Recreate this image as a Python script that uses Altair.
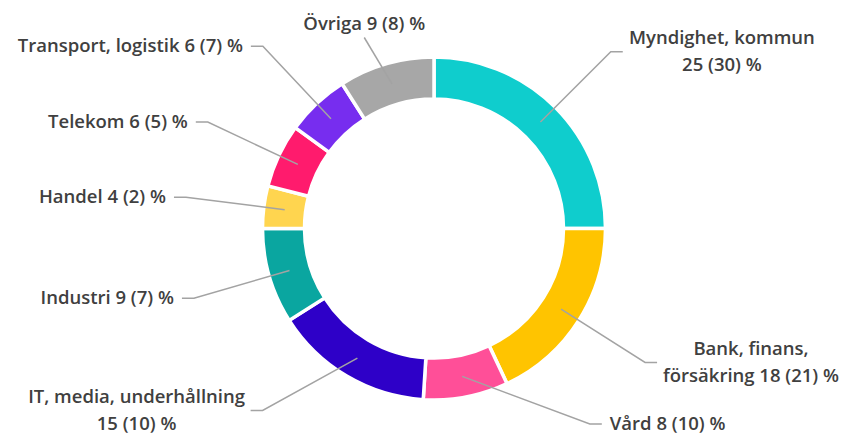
import math
import altair as alt
import pandas as pd

# ---------------- data ----------------
categories = [
    "Myndighet, kommun",
    "Bank, finans, försäkring",
    "Vård",
    "IT, media, underhållning",
    "Industri",
    "Handel",
    "Telekom",
    "Transport, logistik",
    "Övriga",
]
values = [25, 18, 8, 15, 9, 4, 6, 6, 9]
previous = [30, 21, 10, 10, 7, 2, 5, 7, 8]
labels = [
    "Myndighet, kommun\n25 (30) %",
    "Bank, finans,\nförsäkring 18 (21) %",
    "Vård 8 (10) %",
    "IT, media, underhållning\n15 (10) %",
    "Industri 9 (7) %",
    "Handel 4 (2) %",
    "Telekom 6 (5) %",
    "Transport, logistik 6 (7) %",
    "Övriga 9 (8) %",
]
colors = ["#0FCDCD", "#FFC400", "#FF4F98", "#2E00C8", "#0AA6A0",
          "#FFD54F", "#FF1B6D", "#772DEF", "#A7A7A7"]

# ---------------- layout (derived from data) ----------------
W, H = 862, 435
CX, CY = 434, 228.5
R_OUT, R_IN = 171.5, 129.5
R_MID = (R_OUT + R_IN) / 2
R_LAB = 250
SEG, GAP = 12, 8
FS, LH = 18.5, 27
TOP = 12
BOTTOM = H - 11

CW = {' ': 260, ',': 270, '.': 270, '(': 300, ')': 300, '%': 836,
      'a': 561, 'b': 615, 'c': 480, 'd': 615, 'e': 564, 'f': 344, 'g': 543,
      'h': 624, 'i': 258, 'j': 258, 'k': 546, 'l': 258, 'm': 948, 'n': 624,
      'o': 602, 'p': 615, 'q': 615, 'r': 416, 's': 477, 't': 361, 'u': 624,
      'v': 525, 'w': 809, 'x': 533, 'y': 525, 'z': 469, 'å': 561, 'ä': 561,
      'ö': 602, 'A': 650, 'B': 645, 'C': 621, 'D': 710, 'E': 540, 'F': 514,
      'G': 710, 'H': 720, 'I': 301, 'L': 520, 'M': 914, 'N': 750, 'O': 760,
      'P': 610, 'R': 620, 'S': 540, 'T': 562, 'V': 598, 'Ö': 760}


def text_width(s):
    return sum(CW.get(ch, 572 if ch.isdigit() else 560) for ch in s) * FS / 1000


total = sum(values)
cum = 0
info = []
for i, (c, v, lab) in enumerate(zip(categories, values, labels)):
    a = (cum + v / 2) / total * 2 * math.pi
    cum += v
    lines = lab.split("\n")
    info.append(dict(i=i, a=a, lines=lines, n=len(lines),
                     w=max(text_width(l) for l in lines)))

# vertical placement with clamping and overlap removal per side
for d in info:
    d["ny"] = CY - R_LAB * math.cos(d["a"])
    d["top"] = math.cos(d["a"]) > 0 and abs(math.sin(d["a"])) < math.sin(math.radians(25))
    d["side"] = 1 if math.sin(d["a"]) >= 0 else -1

for side in (1, -1):
    grp = sorted([d for d in info if d["side"] == side and not d["top"]], key=lambda d: d["ny"])
    for d in grp:
        half = d["n"] * LH / 2
        lo = TOP + half
        hi = BOTTOM - (d["n"] - 1) * LH / 2
        d["by"] = min(max(d["ny"], lo), hi)
    for k in range(1, len(grp)):
        prev, cur = grp[k - 1], grp[k]
        need = prev["by"] + (prev["n"] + cur["n"]) * LH / 2
        if cur["by"] < need:
            cur["by"] = need

line_rows, text_rows = [], []
for d in info:
    a = d["a"]
    sx, sy = CX + R_MID * math.sin(a), CY - R_MID * math.cos(a)
    lift = (d["n"] - 1) * LH / 2  # first line sits above the connector when wrapped
    if d["top"]:
        bx = CX + R_LAB * math.sin(a)
        by = max(CY - R_LAB * math.cos(a), TOP + FS + 7)
        pts = [(sx, sy), (bx, by)]
        text_rows.append(dict(cat=categories[d["i"]], x=bx, y=by - 14 - 2 * lift,
                              label="\n".join(d["lines"]), align="center"))
    else:
        s = d["side"]
        by = d["by"]
        dy = by - CY
        bx = CX + s * math.sqrt(max(R_LAB ** 2 - dy ** 2, 0))
        ex = bx + s * SEG
        edge = ex + s * GAP
        pts = [(sx, sy), (bx, by), (ex, by)]
        if d["n"] > 1:
            text_rows.append(dict(cat=categories[d["i"]], x=edge + s * d["w"] / 2, y=by - lift,
                                  label="\n".join(d["lines"]), align="center"))
        else:
            text_rows.append(dict(cat=categories[d["i"]], x=edge, y=by,
                                  label=d["lines"][0], align="left" if s > 0 else "right"))
    for k, (px, py) in enumerate(pts):
        line_rows.append(dict(cat=categories[d["i"]], seq=k, x=px, y=py))

arc_df = pd.DataFrame({"category": categories, "value": values, "idx": list(range(len(values)))})
line_df = pd.DataFrame(line_rows)
text_df = pd.DataFrame(text_rows)

xs = alt.X("x:Q", scale=alt.Scale(domain=[0, W]), axis=None)
ys = alt.Y("y:Q", scale=alt.Scale(domain=[0, H], reverse=True), axis=None)

arcs = alt.Chart(arc_df).mark_arc(
    innerRadius=R_IN, outerRadius=R_OUT, stroke="white", strokeWidth=3.5
).encode(
    theta=alt.Theta("value:Q", stack=True),
    color=alt.Color("category:N", scale=alt.Scale(domain=categories, range=colors), legend=None),
    order=alt.Order("idx:Q"),
    x=alt.value(CX),
    y=alt.value(CY),
)

leaders = alt.Chart(line_df).mark_line(color="#A3A3A3", strokeWidth=1.5).encode(
    x=xs, y=ys, detail="cat:N", order="seq:Q"
)


def text_layer(al):
    return alt.Chart(text_df).transform_filter(alt.datum.align == al).mark_text(
        align=al, baseline="middle", font="Open Sans", fontWeight=600,
        fontSize=FS, lineHeight=LH, lineBreak="\n", color="#404040"
    ).encode(x=xs, y=ys, text="label:N")


chart = alt.layer(
    arcs, leaders, text_layer("left"), text_layer("right"), text_layer("center")
).properties(
    width=W, height=H, padding=0, autosize="none", background="white"
).configure_view(stroke=None)

chart.save("out.html", embed_options={"renderer": "svg", "actions": False})
